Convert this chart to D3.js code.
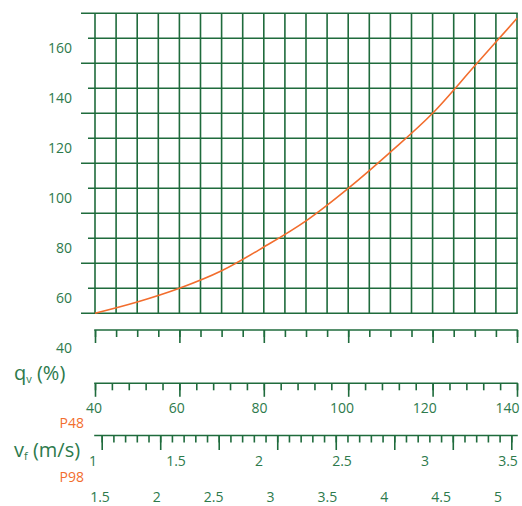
<!DOCTYPE html>
<html>
<head>
<meta charset="utf-8">
<script src="https://cdn.jsdelivr.net/npm/d3@7"></script>
<style>
  body { margin: 0; background: #fff; }
  svg { display: block; font-family: "Open Sans", sans-serif; }
  .grid line { stroke: #1f6b3c; stroke-width: 1.6; }
  .tick-axis path, .tick-axis line { stroke: #1f6b3c; stroke-width: 1.6; }
  .lbl { fill: #2d7a4c; }
  .orange { fill: #f26d2d; }
  .curve { fill: none; stroke: #f26d2d; stroke-width: 1.6; }
</style>
</head>
<body>
<div id="chart"></div>
<script>
// flow q_v (%) against the curve value
var flow = [40, 50, 60, 70, 80, 90, 100, 110, 120, 130, 140];
var value = [50, 54.5, 60, 67, 76.5, 87, 100, 114.5, 130, 149, 168];

var yTicks = [40, 60, 80, 100, 120, 140, 160];
var flowLabels = [40, 60, 80, 100, 120, 140];
var p48Labels = [1, 1.5, 2, 2.5, 3, 3.5];
var p98Labels = [1.5, 2, 2.5, 3, 3.5, 4, 4.5, 5];

var width = 522
    , height = 506
    ;

var svg = d3.select("#chart")
    .append("svg")
    .attr("width", width)
    .attr("height", height);

var x = d3.scaleLinear().domain([40, 140]).range([95, 517]);
var y = d3.scaleLinear().domain([50, 170]).range([313.3, 13.3]);

// printed labels under the rulers sit a bit inside the ruler ends
var xLabel = d3.scaleLinear().domain([40, 140]).range([94, 507.5]);
var vP48 = d3.scaleLinear().domain([1, 3.5]).range([93, 508]);
var vP98 = d3.scaleLinear().domain([1.5, 5]).range([100, 498]);
var vTicks = d3.scaleLinear().domain([1.5, 5]).range([101.7, 511.3]);

// grid
var grid = svg.append("g").attr("class", "grid");

grid.selectAll(".h")
    .data(d3.range(50, 171, 10))
    .enter().append("line")
    .attr("x1", function(d) { return (d / 10) % 2 ? 81 : 88; })
    .attr("x2", x(140) + 0.8)
    .attr("y1", function(d) { return y(d); })
    .attr("y2", function(d) { return y(d); });

grid.selectAll(".v")
    .data(d3.range(40, 141, 5))
    .enter().append("line")
    .attr("x1", function(d) { return x(d); })
    .attr("x2", function(d) { return x(d); })
    .attr("y1", y(170))
    .attr("y2", y(50));

svg.append("g").selectAll("text")
    .data(yTicks)
    .enter().append("text")
    .attr("class", "lbl")
    .attr("x", 72)
    .attr("y", function(d) { return y(d) + 14.3; })
    .attr("text-anchor", "end")
    .style("font-size", "14px")
    .text(function(d) { return d; });

var line = d3.line()
    .x(function(d, i) { return x(flow[i]); })
    .y(function(d) { return y(d); })
    .curve(d3.curveMonotoneX);

svg.append("path")
    .datum(value)
    .attr("class", "curve")
    .attr("d", line);

// tick ruler: minor + major ticks hanging from a line
function ruler(yPos, scale, minor, major, minorLen, majorLen) {
    var g = svg.append("g")
        .attr("class", "tick-axis")
        .attr("transform", "translate(0," + yPos + ")");

    g.append("g")
        .call(d3.axisBottom(scale).tickValues(minor).tickSize(minorLen).tickFormat(""))
        .call(function(s) { s.select(".domain").remove(); });

    g.append("g")
        .call(d3.axisBottom(scale).tickValues(major).tickSize(majorLen).tickFormat(""))
        .call(function(s) { s.select(".domain").remove(); });

    g.append("line")
        .attr("x1", x(40) - 0.8).attr("x2", x(140) + 0.8)
        .attr("y1", 0).attr("y2", 0);

    return g;
}

ruler(330, x, d3.range(40, 141, 5), d3.range(40, 141, 20), 7, 13);
ruler(383.3, x, d3.range(40, 141, 4), d3.range(40, 141, 20), 7, 13.5);
ruler(435.5, vTicks, d3.range(1.5, 5.001, 0.1), d3.range(1.5, 5.001, 0.5), 7, 14.5);

function labelRow(vals, scale, yPos) {
    svg.append("g").selectAll("text")
        .data(vals)
        .enter().append("text")
        .attr("class", "lbl")
        .attr("x", function(d) { return scale(d); })
        .attr("y", yPos)
        .attr("text-anchor", "middle")
        .style("font-size", "14px")
        .text(function(d) { return d; });
}

labelRow(flowLabels, xLabel, 413);
labelRow(p48Labels, vP48, 466);
labelRow(p98Labels, vP98, 502);

svg.append("text")
    .attr("class", "orange")
    .attr("x", 84).attr("y", 428)
    .attr("text-anchor", "end")
    .style("font-size", "14px")
    .text("P48");

svg.append("text")
    .attr("class", "orange")
    .attr("x", 84).attr("y", 482)
    .attr("text-anchor", "end")
    .style("font-size", "14px")
    .text("P98");

var qLabel = svg.append("text")
    .attr("class", "lbl")
    .attr("x", 14).attr("y", 380)
    .style("font-size", "20px");
qLabel.append("tspan").text("q");
qLabel.append("tspan").attr("dy", 3).style("font-size", "11px").text("v");
qLabel.append("tspan").attr("dy", -3).text(" (%)");

var vLabel = svg.append("text")
    .attr("class", "lbl")
    .attr("x", 14).attr("y", 457)
    .style("font-size", "20px");
vLabel.append("tspan").text("v");
vLabel.append("tspan").attr("dy", 3).style("font-size", "11px").text("f");
vLabel.append("tspan").attr("dy", -3).text(" (m/s)");
</script>
</body>
</html>
